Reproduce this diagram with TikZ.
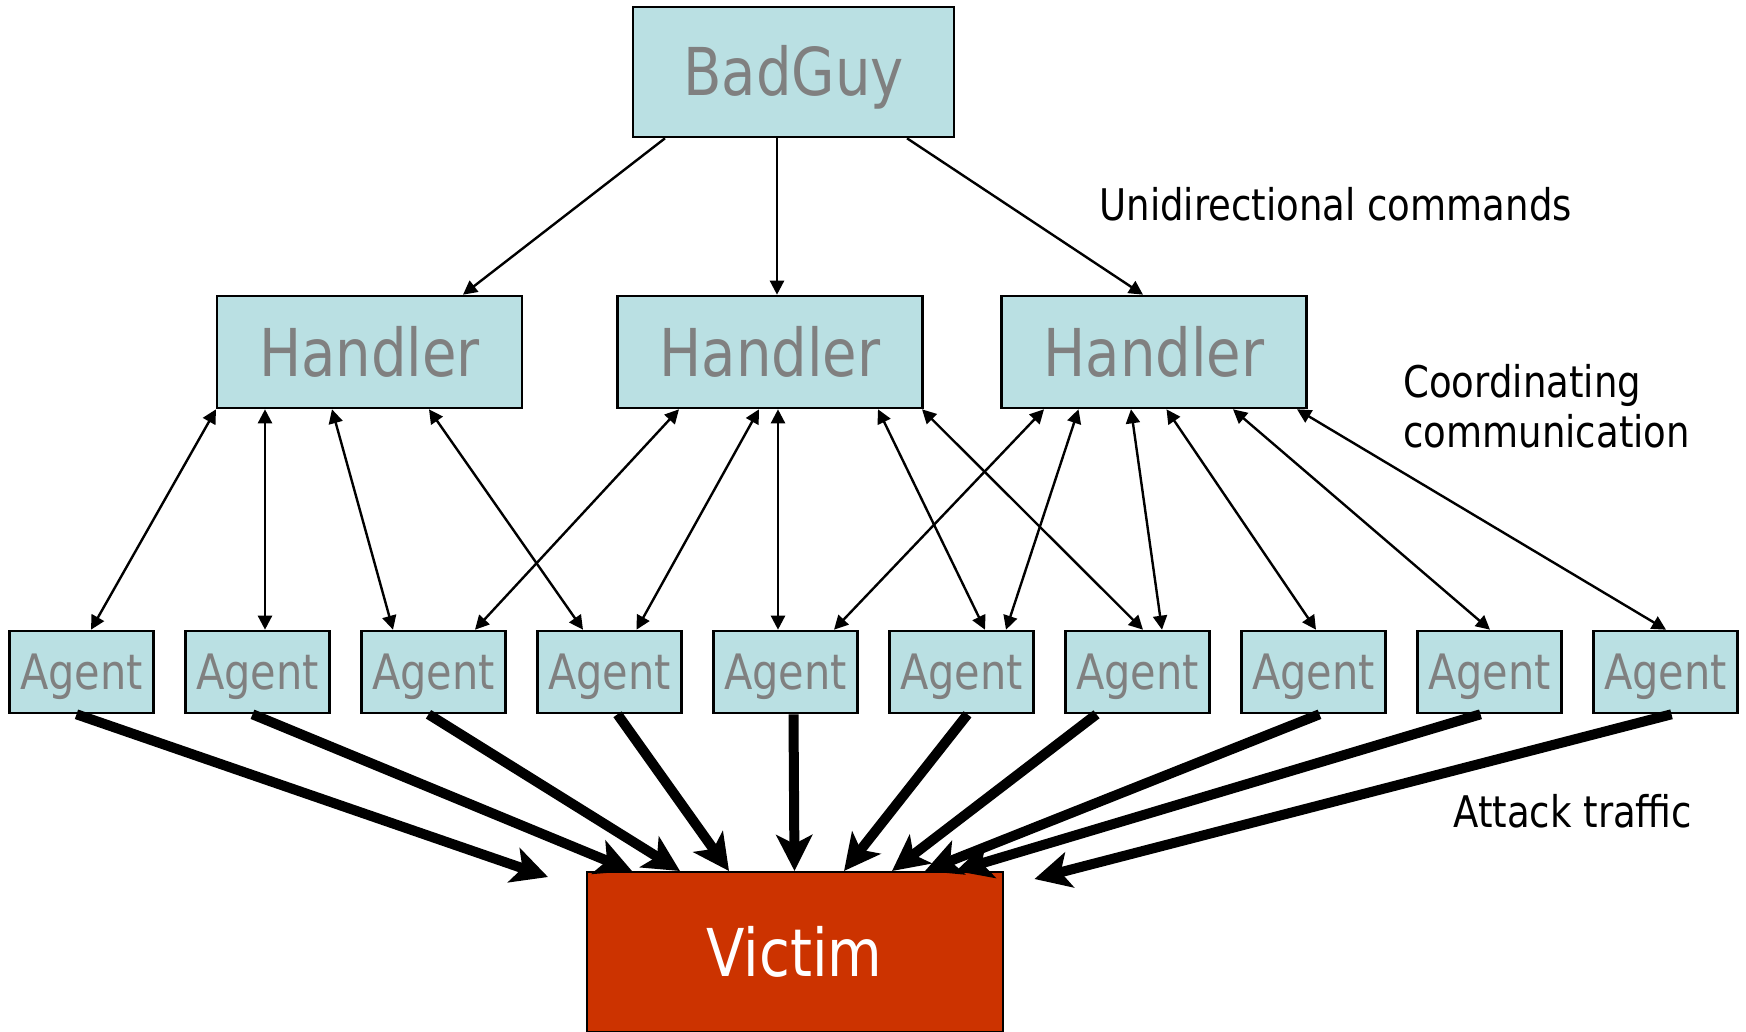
\documentclass[tikz,border=0pt]{standalone}
\usepackage{fontspec}
\setmainfont{DejaVu Sans}[FakeStretch=0.85]
\definecolor{boxblue}{RGB}{186,224,227}
\definecolor{boxgray}{RGB}{128,128,128}
\definecolor{victimred}{RGB}{204,51,0}
\usetikzlibrary{arrows.meta, calc}

\begin{document}
\begin{tikzpicture}[x=0.5pt, y=-0.5pt,
    box/.style={draw, line width=1.3pt, fill=boxblue, text=boxgray, inner sep=0pt},
    bigtext/.style={font=\fontsize{33}{40}\selectfont, text height=30pt, text depth=6pt},
    handler/.style={box, bigtext, minimum width=152.5pt, minimum height=56pt},
    agent/.style={box, minimum width=72pt, minimum height=41pt,
                  font=\fontsize{24.4}{29}\selectfont, text height=22pt, text depth=4.5pt},
    cmd/.style={-{Triangle[length=7pt,width=7pt]}, line width=1.2pt},
    coord/.style={{Triangle[length=7pt,width=7pt]}-{Triangle[length=7pt,width=7pt]},
                  line width=1.2pt},
    attack/.style={-{Stealth[length=18pt,width=18pt,inset=4.5pt]}, line width=5pt},
    note/.style={font=\fontsize{21.8}{25}\selectfont, inner sep=0pt,
                 anchor=base west, align=left}
  ]
    \useasboundingbox (0,0) rectangle (1746,1032);

    \node[box, bigtext, minimum width=160.5pt, minimum height=65pt] (badguy)
      at (793.5,72) {BadGuy};

    \node[handler] (h1) at (369.5,352) {Handler};
    \node[handler] (h2) at (770,352) {Handler};
    \node[handler] (h3) at (1154,352) {Handler};

    \node[agent] (a1) at (81.5,672) {Agent};
    \node[agent] (a2) at (257.5,672) {Agent};
    \node[agent] (a3) at (433.5,672) {Agent};
    \node[agent] (a4) at (609.5,672) {Agent};
    \node[agent] (a5) at (785.5,672) {Agent};
    \node[agent] (a6) at (961.5,672) {Agent};
    \node[agent] (a7) at (1137.5,672) {Agent};
    \node[agent] (a8) at (1313.5,672) {Agent};
    \node[agent] (a9) at (1489.5,672) {Agent};
    \node[agent] (a10) at (1665.5,672) {Agent};

    \node[draw, line width=1pt, fill=victimred, text=white, inner sep=0pt, bigtext,
          minimum width=208pt, minimum height=80pt] (victim) at (794.5,952) {Victim};

    % commands from the bad guy
    \draw[cmd] ($(badguy.south)+(-128.5,0)$) -- ($(h1.north)+(93.5,0)$);
    \draw[cmd] ($(badguy.south)+(-16.5,0)$) -- ($(h2.north)+(7,0)$);
    \draw[cmd] ($(badguy.south)+(113.5,0)$) -- ($(h3.north)+(-11,0)$);

    % handler <-> agent
    \draw[coord] ($(h1.south)+(-153.5,0)$) -- ($(a1.north)+(9.5,0)$);
    \draw[coord] ($(h1.south)+(-104.5,0)$) -- ($(a2.north)+(7.5,0)$);
    \draw[coord] ($(h1.south)+(-37.5,0)$) -- ($(a3.north)+(-40.5,0)$);
    \draw[coord] ($(h1.south)+(59.5,0)$) -- ($(a4.north)+(-26.5,0)$);
    \draw[coord] ($(h2.south)+(-91,0)$) -- ($(a3.north)+(41.5,0)$);
    \draw[coord] ($(h2.south)+(-11,0)$) -- ($(a4.north)+(27,0)$);
    \draw[coord] ($(h2.south)+(8,0)$) -- ($(a5.north)+(-7.5,0)$);
    \draw[coord] ($(h2.south)+(108,0)$) -- ($(a6.north)+(23.5,0)$);
    \draw[coord] ($(h2.south)+(152,0)$) -- ($(a7.north)+(5.5,0)$);
    \draw[coord] ($(h3.south)+(-110,0)$) -- ($(a5.north)+(48.5,0)$);
    \draw[coord] ($(h3.south)+(-75.5,0)$) -- ($(a6.north)+(44.5,0)$);
    \draw[coord] ($(h3.south)+(-23,0)$) -- ($(a7.north)+(24.5,0)$);
    \draw[coord] ($(h3.south)+(12.5,0)$) -- ($(a8.north)+(2.5,0)$);
    \draw[coord] ($(h3.south)+(79,0)$) -- ($(a9.north)+(0.5,0)$);
    \draw[coord] ($(h3.south)+(143,0)$) -- ($(a10.north)+(0.5,0)$);

    % attack traffic
    \draw[attack] ($(a1.south)+(-5,0)$) -- ($(victim.north)+(-246.5,6)$);
    \draw[attack] ($(a2.south)+(-5,0)$) -- ($(victim.north)+(-162.5,0)$);
    \draw[attack] ($(a3.south)+(-5,0)$) -- ($(victim.north)+(-114.5,0)$);
    \draw[attack] ($(a4.south)+(8,0)$) -- ($(victim.north)+(-65.5,0)$);
    \draw[attack] ($(a5.south)+(8,0)$) -- ($(victim.north)+(0,0)$);
    \draw[attack] ($(a6.south)+(6,0)$) -- ($(victim.north)+(49.5,0)$);
    \draw[attack] ($(a7.south)+(-41,0)$) -- ($(victim.north)+(97.5,0)$);
    \draw[attack] ($(a8.south)+(6,0)$) -- ($(victim.north)+(130.5,0)$);
    \draw[attack] ($(a9.south)+(-9,0)$) -- ($(victim.north)+(161.5,0)$);
    \draw[attack] ($(a10.south)+(6,0)$) -- ($(victim.north)+(240,8)$);

    \node[note] (lblcmd) at (1099,221) {Unidirectional commands};
    \node[note] (lblcoord) at (1403,447) {Coordinating\\communication};
    \node[note] (lblattack) at (1453,827) {Attack traffic};
  \end{tikzpicture}
\end{document}
